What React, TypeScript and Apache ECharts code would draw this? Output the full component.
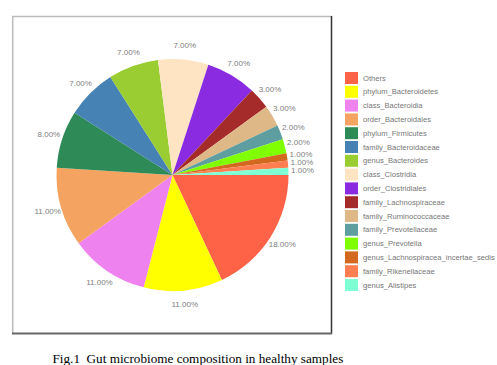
import React, { useEffect, useRef } from "react";
import * as echarts from "echarts";

const categories: string[] = [
  "Others",
  "phylum_Bacteroidetes",
  "class_Bacteroidia",
  "order_Bacteroidales",
  "phylum_Firmicutes",
  "family_Bacteroidaceae",
  "genus_Bacteroides",
  "class_Clostridia",
  "order_Clostridiales",
  "family_Lachnospiraceae",
  "family_Ruminococcaceae",
  "family_Prevotellaceae",
  "genus_Prevotella",
  "genus_Lachnospiracea_incertae_sedis",
  "family_Rikenellaceae",
  "genus_Alistipes",
];

const values: number[] = [18, 11, 11, 11, 8, 7, 7, 7, 7, 3, 3, 2, 2, 1, 1, 1];

const colors: string[] = [
  "#FF6347",
  "#FFFF00",
  "#EE82EE",
  "#F4A460",
  "#2E8B57",
  "#4682B4",
  "#9ACD32",
  "#FFE4C4",
  "#8A2BE2",
  "#A52A2A",
  "#DEB887",
  "#5F9EA0",
  "#7FFF00",
  "#D2691E",
  "#FF7F50",
  "#7FFFD4",
];

const caption = "Fig.1  Gut microbiome composition in healthy samples";

const SANS = "'Liberation Sans', Arial, sans-serif";

export default function App() {
  const ref = useRef<HTMLDivElement>(null);

  useEffect(() => {
    if (!ref.current) return;
    const chart = echarts.init(ref.current, undefined, { renderer: "svg" });
    const data = categories.map((name, i) => ({ name, value: values[i] }));
    chart.setOption({
      animation: false,
      color: colors,
      title: {
        text: caption,
        left: 47.5,
        top: 347,
        textStyle: {
          fontFamily: "'Liberation Serif', 'Times New Roman', serif",
          fontSize: 13.2,
          fontWeight: "normal",
          color: "#000",
        },
      },
      legend: {
        orient: "vertical",
        left: 345,
        top: 72,
        itemWidth: 13,
        itemHeight: 12,
        itemGap: 1.8,
        icon: "rect",
        padding: 0,
        data: categories,
        textStyle: { fontSize: 7.6, color: "#777", fontFamily: SANS },
        selectedMode: false,
      },
      graphic: [
        { type: "line", shape: { x1: 12, y1: 16.5, x2: 332, y2: 16.5 }, style: { stroke: "#bbb", lineWidth: 1.5 } },
        { type: "line", shape: { x1: 12.7, y1: 16, x2: 12.7, y2: 334 }, style: { stroke: "#bbb", lineWidth: 1.5 } },
        { type: "line", shape: { x1: 331.5, y1: 16, x2: 331.5, y2: 334 }, style: { stroke: "#333", lineWidth: 1.5 } },
        { type: "line", shape: { x1: 12, y1: 333.5, x2: 332, y2: 333.5 }, style: { stroke: "#666", lineWidth: 2 } },
      ],
      series: [
        {
          type: "pie",
          center: [172.5, 175],
          radius: [0, 116],
          startAngle: 0,
          clockwise: true,
          itemStyle: { borderWidth: 0 },
          label: { show: false },
          labelLine: { show: false },
          emphasis: { disabled: true },
          data,
        },
        {
          type: "pie",
          center: [172.5, 175],
          radius: [120, 134],
          startAngle: 0,
          clockwise: true,
          silent: true,
          itemStyle: { color: "transparent", borderWidth: 0 },
          label: {
            show: true,
            position: "inside",
            fontSize: 8,
            color: "#808080",
            fontFamily: SANS,
            formatter: (p: any) => Number(p.percent).toFixed(2) + "%",
          },
          labelLine: { show: false },
          emphasis: { disabled: true },
          data,
        },
      ],
    });
    return () => chart.dispose();
  }, []);

  return (
    <div
      ref={ref}
      style={{ position: "fixed", left: 0, top: 0, width: 497, height: 365, background: "#fff" }}
    />
  );
}
